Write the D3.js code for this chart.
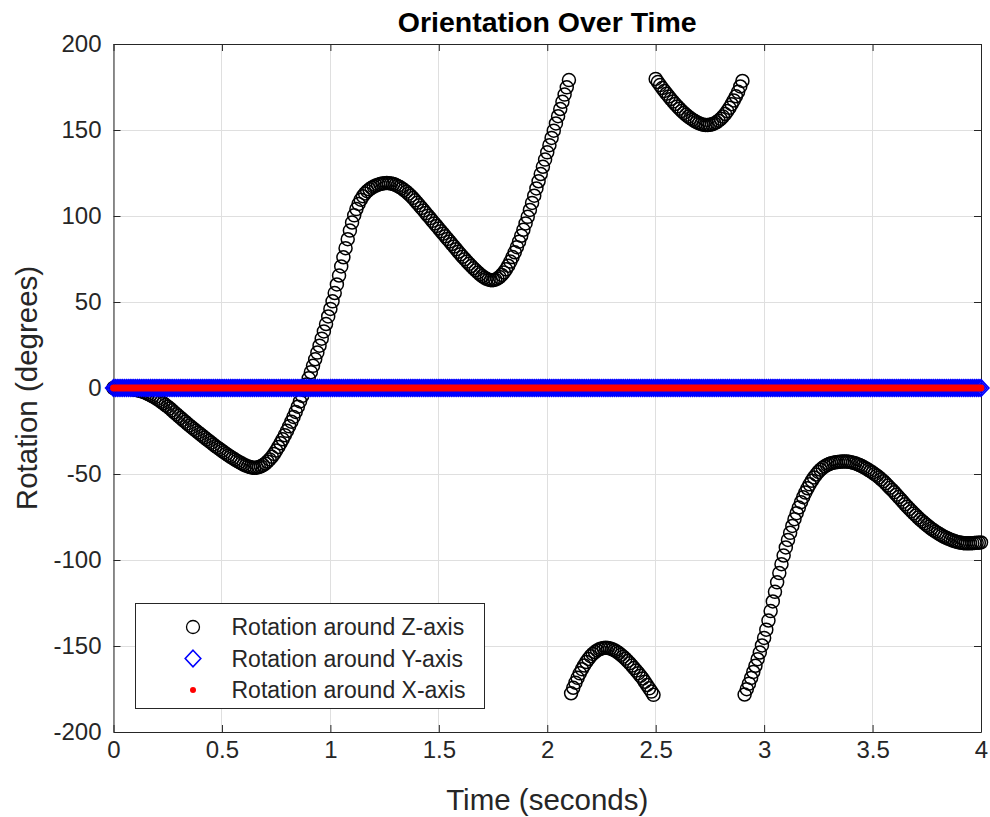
<!DOCTYPE html>
<html>
<head>
<meta charset="utf-8">
<script src="https://cdn.jsdelivr.net/npm/d3@7"></script>
<style>
  body { margin: 0; background: #fff; }
  svg { display: block; font-family: "Liberation Sans", Arial, Helvetica, sans-serif; }
</style>
</head>
<body>
<svg id="chart" width="990" height="817"></svg>
<script>
// time stamps (seconds), sampled every 0.01 s
var timeSec = [
  0,0.01,0.02,0.03,0.04,0.05,0.06,0.07,0.08,0.09,
  0.1,0.11,0.12,0.13,0.14,0.15,0.16,0.17,0.18,0.19,
  0.2,0.21,0.22,0.23,0.24,0.25,0.26,0.27,0.28,0.29,
  0.3,0.31,0.32,0.33,0.34,0.35,0.36,0.37,0.38,0.39,
  0.4,0.41,0.42,0.43,0.44,0.45,0.46,0.47,0.48,0.49,
  0.5,0.51,0.52,0.53,0.54,0.55,0.56,0.57,0.58,0.59,
  0.6,0.61,0.62,0.63,0.64,0.65,0.66,0.67,0.68,0.69,
  0.7,0.71,0.72,0.73,0.74,0.75,0.76,0.77,0.78,0.79,
  0.8,0.81,0.82,0.83,0.84,0.85,0.86,0.87,0.88,0.89,
  0.9,0.91,0.92,0.93,0.94,0.95,0.96,0.97,0.98,0.99,
  1,1.01,1.02,1.03,1.04,1.05,1.06,1.07,1.08,1.09,
  1.1,1.11,1.12,1.13,1.14,1.15,1.16,1.17,1.18,1.19,
  1.2,1.21,1.22,1.23,1.24,1.25,1.26,1.27,1.28,1.29,
  1.3,1.31,1.32,1.33,1.34,1.35,1.36,1.37,1.38,1.39,
  1.4,1.41,1.42,1.43,1.44,1.45,1.46,1.47,1.48,1.49,
  1.5,1.51,1.52,1.53,1.54,1.55,1.56,1.57,1.58,1.59,
  1.6,1.61,1.62,1.63,1.64,1.65,1.66,1.67,1.68,1.69,
  1.7,1.71,1.72,1.73,1.74,1.75,1.76,1.77,1.78,1.79,
  1.8,1.81,1.82,1.83,1.84,1.85,1.86,1.87,1.88,1.89,
  1.9,1.91,1.92,1.93,1.94,1.95,1.96,1.97,1.98,1.99,
  2,2.01,2.02,2.03,2.04,2.05,2.06,2.07,2.08,2.09,
  2.1,2.11,2.12,2.13,2.14,2.15,2.16,2.17,2.18,2.19,
  2.2,2.21,2.22,2.23,2.24,2.25,2.26,2.27,2.28,2.29,
  2.3,2.31,2.32,2.33,2.34,2.35,2.36,2.37,2.38,2.39,
  2.4,2.41,2.42,2.43,2.44,2.45,2.46,2.47,2.48,2.49,
  2.5,2.51,2.52,2.53,2.54,2.55,2.56,2.57,2.58,2.59,
  2.6,2.61,2.62,2.63,2.64,2.65,2.66,2.67,2.68,2.69,
  2.7,2.71,2.72,2.73,2.74,2.75,2.76,2.77,2.78,2.79,
  2.8,2.81,2.82,2.83,2.84,2.85,2.86,2.87,2.88,2.89,
  2.9,2.91,2.92,2.93,2.94,2.95,2.96,2.97,2.98,2.99,
  3,3.01,3.02,3.03,3.04,3.05,3.06,3.07,3.08,3.09,
  3.1,3.11,3.12,3.13,3.14,3.15,3.16,3.17,3.18,3.19,
  3.2,3.21,3.22,3.23,3.24,3.25,3.26,3.27,3.28,3.29,
  3.3,3.31,3.32,3.33,3.34,3.35,3.36,3.37,3.38,3.39,
  3.4,3.41,3.42,3.43,3.44,3.45,3.46,3.47,3.48,3.49,
  3.5,3.51,3.52,3.53,3.54,3.55,3.56,3.57,3.58,3.59,
  3.6,3.61,3.62,3.63,3.64,3.65,3.66,3.67,3.68,3.69,
  3.7,3.71,3.72,3.73,3.74,3.75,3.76,3.77,3.78,3.79,
  3.8,3.81,3.82,3.83,3.84,3.85,3.86,3.87,3.88,3.89,
  3.9,3.91,3.92,3.93,3.94,3.95,3.96,3.97,3.98,3.99,
  4
];

// rotation around Z (degrees), wrapped to [-180, 180]
var rotZ = [
  0,0,0,-0.1,-0.1,-0.2,-0.3,-0.4,-0.6,-0.8,
  -1.0,-1.3,-1.6,-2.0,-2.4,-2.9,-3.5,-4.1,-4.8,-5.5,
  -6.3,-7.1,-8.0,-8.9,-9.9,-10.9,-11.9,-13.0,-14.1,-15.2,
  -16.3,-17.4,-18.5,-19.6,-20.7,-21.8,-22.8,-23.8,-24.8,-25.8,
  -26.8,-27.8,-28.8,-29.8,-30.8,-31.8,-32.8,-33.8,-34.7,-35.6,
  -36.5,-37.4,-38.3,-39.2,-40.0,-40.8,-41.6,-42.4,-43.1,-43.8,
  -44.5,-45.1,-45.6,-46.0,-46.3,-46.4,-46.3,-46.0,-45.5,-44.8,
  -43.9,-42.8,-41.5,-40.0,-38.3,-36.4,-34.3,-32.1,-29.8,-27.4,
  -24.9,-22.3,-19.6,-16.8,-13.9,-10.9,-7.8,-4.6,-1.3,2.1,
  5.6,9.2,12.9,16.7,20.6,24.6,28.7,32.9,37.2,41.6,
  46.0,50.4,55.2,60.2,65.4,70.7,76.0,81.3,86.5,91.5,
  96.2,100.4,104.0,107.0,109.5,111.5,113.1,114.4,115.5,116.4,
  117.1,117.7,118.2,118.6,118.9,119.1,119.2,119.1,118.9,118.6,
  118.1,117.5,116.8,116.0,115.1,114.1,113.0,111.8,110.5,109.1,
  107.7,106.2,104.7,103.2,101.7,100.2,98.7,97.2,95.7,94.2,
  92.7,91.2,89.7,88.2,86.7,85.2,83.7,82.2,80.7,79.2,
  77.7,76.3,74.9,73.5,72.2,70.9,69.6,68.4,67.2,66.1,
  65.1,64.2,63.5,63.0,62.7,62.7,63.0,63.6,64.5,65.7,
  67.2,69.0,71.1,73.5,76.1,78.9,81.9,85.1,88.5,92.0,
  95.7,99.5,103.5,107.6,111.8,116.0,120.2,124.4,128.6,132.8,
  137.0,141.2,145.4,149.6,153.8,158.0,162.2,166.4,170.6,174.8,
  179.0,-177.5,-174.3,-171.3,-168.5,-165.9,-163.5,-161.3,-159.3,-157.5,
  -155.9,-154.6,-153.5,-152.6,-151.9,-151.4,-151.1,-151.0,-151.1,-151.4,
  -151.9,-152.5,-153.2,-154.1,-155.1,-156.2,-157.4,-158.7,-160.0,-161.4,
  -162.8,-164.3,-165.8,-167.3,-168.9,-170.8,-172.7,-174.6,-176.5,-178.4,
  179.7,177.9,176.1,174.4,172.7,171.1,169.5,168.0,166.5,165.1,
  163.7,162.4,161.1,159.9,158.8,157.8,156.9,156.0,155.2,154.5,
  153.9,153.4,153.1,152.9,152.9,153.0,153.3,153.8,154.5,155.4,
  156.5,157.8,159.3,161.0,162.9,165.0,167.2,169.6,172.2,175.3,
  178.5,-178.2,-175.1,-171.9,-168.6,-165.1,-161.5,-157.7,-153.8,-149.7,
  -145.3,-140.5,-135.2,-129.7,-124.1,-118.5,-113.0,-107.6,-102.4,-97.4,
  -92.7,-88.3,-84.2,-80.2,-76.3,-72.8,-69.5,-66.4,-63.5,-60.8,
  -58.3,-56.0,-53.9,-52.0,-50.3,-48.8,-47.5,-46.4,-45.5,-44.8,
  -44.2,-43.7,-43.4,-43.2,-43.0,-42.9,-42.8,-42.8,-42.8,-42.9,
  -43.1,-43.4,-43.8,-44.3,-44.8,-45.4,-46.1,-46.8,-47.6,-48.4,
  -49.2,-50.1,-51.0,-52.0,-53.1,-54.2,-55.4,-56.7,-58.0,-59.3,
  -60.6,-62.0,-63.4,-64.8,-66.2,-67.6,-69.0,-70.3,-71.6,-72.9,
  -74.1,-75.3,-76.5,-77.6,-78.7,-79.7,-80.7,-81.7,-82.6,-83.5,
  -84.3,-85.1,-85.8,-86.5,-87.1,-87.7,-88.2,-88.7,-89.1,-89.5,
  -89.8,-90.0,-90.2,-90.3,-90.3,-90.3,-90.2,-90.1,-90.0,-89.9,
  -89.8
];

// rotation around Y (degrees): flat at zero over the whole run
var rotY = [
  0,0,0,0,0,0,0,0,0,0,0,0,0,0,0,0,0,0,0,0,
  0,0,0,0,0,0,0,0,0,0,0,0,0,0,0,0,0,0,0,0,
  0,0,0,0,0,0,0,0,0,0,0,0,0,0,0,0,0,0,0,0,
  0,0,0,0,0,0,0,0,0,0,0,0,0,0,0,0,0,0,0,0,
  0,0,0,0,0,0,0,0,0,0,0,0,0,0,0,0,0,0,0,0,
  0,0,0,0,0,0,0,0,0,0,0,0,0,0,0,0,0,0,0,0,
  0,0,0,0,0,0,0,0,0,0,0,0,0,0,0,0,0,0,0,0,
  0,0,0,0,0,0,0,0,0,0,0,0,0,0,0,0,0,0,0,0,
  0,0,0,0,0,0,0,0,0,0,0,0,0,0,0,0,0,0,0,0,
  0,0,0,0,0,0,0,0,0,0,0,0,0,0,0,0,0,0,0,0,
  0,0,0,0,0,0,0,0,0,0,0,0,0,0,0,0,0,0,0,0,
  0,0,0,0,0,0,0,0,0,0,0,0,0,0,0,0,0,0,0,0,
  0,0,0,0,0,0,0,0,0,0,0,0,0,0,0,0,0,0,0,0,
  0,0,0,0,0,0,0,0,0,0,0,0,0,0,0,0,0,0,0,0,
  0,0,0,0,0,0,0,0,0,0,0,0,0,0,0,0,0,0,0,0,
  0,0,0,0,0,0,0,0,0,0,0,0,0,0,0,0,0,0,0,0,
  0,0,0,0,0,0,0,0,0,0,0,0,0,0,0,0,0,0,0,0,
  0,0,0,0,0,0,0,0,0,0,0,0,0,0,0,0,0,0,0,0,
  0,0,0,0,0,0,0,0,0,0,0,0,0,0,0,0,0,0,0,0,
  0,0,0,0,0,0,0,0,0,0,0,0,0,0,0,0,0,0,0,0,
  0
];

// rotation around X (degrees): also zero everywhere
var rotX = [
  0,0,0,0,0,0,0,0,0,0,0,0,0,0,0,0,0,0,0,0,
  0,0,0,0,0,0,0,0,0,0,0,0,0,0,0,0,0,0,0,0,
  0,0,0,0,0,0,0,0,0,0,0,0,0,0,0,0,0,0,0,0,
  0,0,0,0,0,0,0,0,0,0,0,0,0,0,0,0,0,0,0,0,
  0,0,0,0,0,0,0,0,0,0,0,0,0,0,0,0,0,0,0,0,
  0,0,0,0,0,0,0,0,0,0,0,0,0,0,0,0,0,0,0,0,
  0,0,0,0,0,0,0,0,0,0,0,0,0,0,0,0,0,0,0,0,
  0,0,0,0,0,0,0,0,0,0,0,0,0,0,0,0,0,0,0,0,
  0,0,0,0,0,0,0,0,0,0,0,0,0,0,0,0,0,0,0,0,
  0,0,0,0,0,0,0,0,0,0,0,0,0,0,0,0,0,0,0,0,
  0,0,0,0,0,0,0,0,0,0,0,0,0,0,0,0,0,0,0,0,
  0,0,0,0,0,0,0,0,0,0,0,0,0,0,0,0,0,0,0,0,
  0,0,0,0,0,0,0,0,0,0,0,0,0,0,0,0,0,0,0,0,
  0,0,0,0,0,0,0,0,0,0,0,0,0,0,0,0,0,0,0,0,
  0,0,0,0,0,0,0,0,0,0,0,0,0,0,0,0,0,0,0,0,
  0,0,0,0,0,0,0,0,0,0,0,0,0,0,0,0,0,0,0,0,
  0,0,0,0,0,0,0,0,0,0,0,0,0,0,0,0,0,0,0,0,
  0,0,0,0,0,0,0,0,0,0,0,0,0,0,0,0,0,0,0,0,
  0,0,0,0,0,0,0,0,0,0,0,0,0,0,0,0,0,0,0,0,
  0,0,0,0,0,0,0,0,0,0,0,0,0,0,0,0,0,0,0,0,
  0
];

var xTicks = [0, 0.5, 1, 1.5, 2, 2.5, 3, 3.5, 4];
var yTicks = [-200, -150, -100, -50, 0, 50, 100, 150, 200];
var seriesNames = ["Rotation around Z-axis", "Rotation around Y-axis", "Rotation around X-axis"];

var axisColor = "#262626";
var gridColor = "#dfdfdf";

var svg = d3.select("#chart");

// plot box in pixels (named so they don't clash with window.top etc.)
var plotLeft = 113.5, plotRight = 981, plotTop = 44, plotBottom = 732;

var x = d3.scaleLinear().domain([0, 4]).range([plotLeft, plotRight]);
var y = d3.scaleLinear().domain([-200, 200]).range([plotBottom, plotTop]);

svg.append("rect").attr("width", 990).attr("height", 817).attr("fill", "#fff");

// grid
var grid = svg.append("g").attr("shape-rendering", "crispEdges");
grid.selectAll(".vg").data(xTicks).enter().append("line")
    .attr("x1", d => x(d)).attr("x2", d => x(d))
    .attr("y1", plotTop).attr("y2", plotBottom)
    .attr("stroke", gridColor);
grid.selectAll(".hg").data(yTicks).enter().append("line")
    .attr("x1", plotLeft).attr("x2", plotRight)
    .attr("y1", d => y(d)).attr("y2", d => y(d))
    .attr("stroke", gridColor);

// axes, ticks pointing inwards on all four sides (matlab "box on")
var fmt = d => String(d);
function styleAxis(g) {
    g.attr("font-family", null).attr("font-size", null);
    g.select(".domain").attr("stroke", axisColor);
    g.selectAll(".tick line").attr("stroke", axisColor);
    g.selectAll(".tick text").attr("fill", axisColor).style("font-size", "24px");
}
svg.append("g")
    .attr("transform", "translate(0," + plotBottom + ")")
    .call(d3.axisBottom(x).tickValues(xTicks).tickFormat(fmt).tickSizeInner(-7).tickSizeOuter(0).tickPadding(9))
    .call(styleAxis);
svg.append("g")
    .attr("transform", "translate(0," + plotTop + ")")
    .call(d3.axisTop(x).tickValues(xTicks).tickFormat("").tickSizeInner(-7).tickSizeOuter(0))
    .call(styleAxis);
svg.append("g")
    .attr("transform", "translate(" + plotLeft + ",0)")
    .call(d3.axisLeft(y).tickValues(yTicks).tickFormat(fmt).tickSizeInner(-7).tickSizeOuter(0).tickPadding(12))
    .call(styleAxis);
svg.append("g")
    .attr("transform", "translate(" + plotRight + ",0)")
    .call(d3.axisRight(y).tickValues(yTicks).tickFormat("").tickSizeInner(-7).tickSizeOuter(0))
    .call(styleAxis);

// data
var diamond = "M0,-8.3L7.8,0L0,8.3L-7.8,0Z";

svg.append("g").selectAll("circle").data(rotZ).enter().append("circle")
    .attr("cx", (d, i) => x(timeSec[i]))
    .attr("cy", d => y(d))
    .attr("r", 6.5)
    .attr("fill", "none")
    .attr("stroke", "#000")
    .attr("stroke-width", 1.5);

svg.append("g").selectAll("path").data(rotY).enter().append("path")
    .attr("d", diamond)
    .attr("transform", (d, i) => "translate(" + x(timeSec[i]) + "," + y(d) + ")")
    .attr("fill", "none")
    .attr("stroke", "#0000ff")
    .attr("stroke-width", 1.8);

svg.append("g").selectAll("circle").data(rotX).enter().append("circle")
    .attr("cx", (d, i) => x(timeSec[i]))
    .attr("cy", d => y(d))
    .attr("r", 3.4)
    .attr("fill", "#ff0000");

// title and axis labels
svg.append("text")
    .attr("x", (plotLeft + plotRight) / 2).attr("y", 32)
    .attr("text-anchor", "middle")
    .style("font-size", "28.5px").style("font-weight", "bold")
    .attr("fill", "#000")
    .text("Orientation Over Time");

svg.append("text")
    .attr("x", (plotLeft + plotRight) / 2).attr("y", 810)
    .attr("text-anchor", "middle")
    .style("font-size", "29.5px")
    .attr("fill", axisColor)
    .text("Time (seconds)");

svg.append("text")
    .attr("transform", "translate(37," + (plotTop + plotBottom) / 2 + ") rotate(-90)")
    .attr("text-anchor", "middle")
    .style("font-size", "29.5px")
    .attr("fill", axisColor)
    .text("Rotation (degrees)");

// legend
var legend = svg.append("g").attr("transform", "translate(135.5,603.5)");
legend.append("rect")
    .attr("width", 349).attr("height", 105)
    .attr("fill", "#fff").attr("stroke", axisColor);

var rows = legend.selectAll(".row").data(seriesNames).enter().append("g")
    .attr("transform", (d, i) => "translate(0," + (23.5 + i * 31.5) + ")");

rows.append("text")
    .attr("x", 96).attr("dy", "0.35em")
    .style("font-size", "23px")
    .attr("fill", axisColor)
    .text(d => d);

rows.filter((d, i) => i == 0).append("circle")
    .attr("cx", 57.5).attr("r", 6.5)
    .attr("fill", "none").attr("stroke", "#000").attr("stroke-width", 1.3);
rows.filter((d, i) => i == 1).append("path")
    .attr("d", diamond).attr("transform", "translate(57.5,0)")
    .attr("fill", "none").attr("stroke", "#0000ff").attr("stroke-width", 1.6);
rows.filter((d, i) => i == 2).append("circle")
    .attr("cx", 57.5).attr("r", 3)
    .attr("fill", "#ff0000");
</script>
</body>
</html>
